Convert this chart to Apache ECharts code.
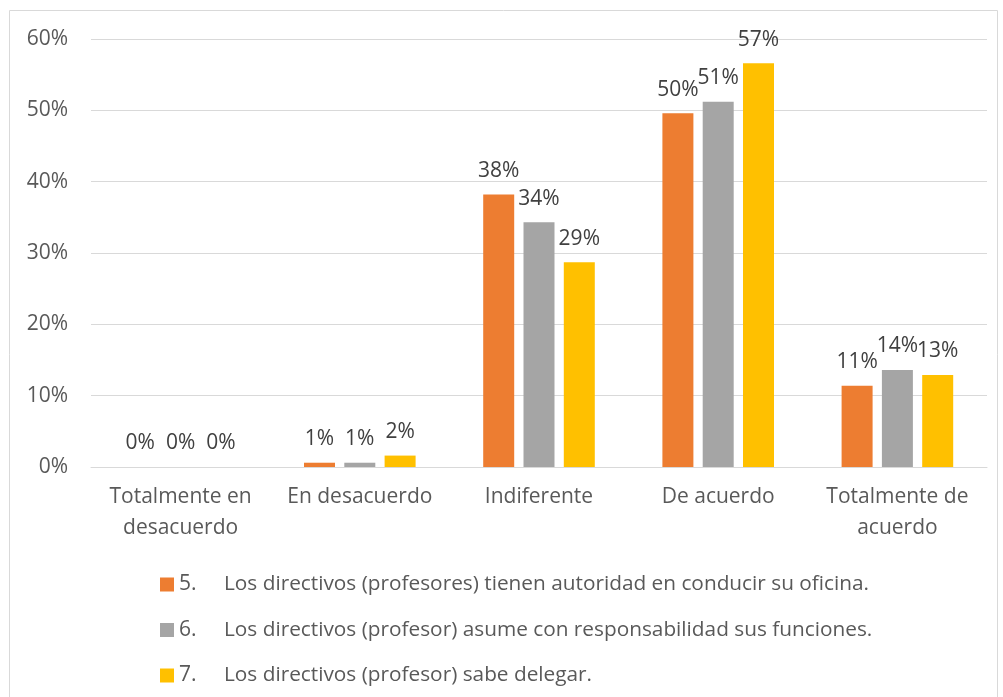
<!DOCTYPE html>
<html>
<head>
<meta charset="utf-8">
<script src="https://cdn.jsdelivr.net/npm/echarts@6/dist/echarts.min.js"></script>
<style>
  html, body { margin: 0; padding: 0; background: #fff; }
  #chart { width: 1003px; height: 697px; }
</style>
</head>
<body>
<div id="chart"></div>
<script>
// categories on the x axis
const categories = ['Totalmente en\ndesacuerdo', 'En desacuerdo', 'Indiferente', 'De acuerdo', 'Totalmente de\nacuerdo']
// legend names: number + statement
const seriesNums = ['5.', '6.', '7.']
const seriesNames = [
  'Los directivos (profesores) tienen autoridad en conducir su oficina.',
  'Los directivos (profesor) asume con responsabilidad sus funciones.',
  'Los directivos (profesor) sabe delegar.'
]
// percentages
const values5 = [0, 0.6, 38.2, 49.6, 11.4]
const values6 = [0, 0.6, 34.3, 51.2, 13.6]
const values7 = [0, 1.6, 28.7, 56.6, 12.9]
const yTicks = [0, 10, 20, 30, 40, 50, 60]

const colors = ['#ED7D31', '#A5A5A5', '#FFC000']
const font = '"Open Sans", sans-serif'

const chart = echarts.init(document.getElementById('chart'))

const makeSeries = (idx, data) => ({
  name: seriesNums[idx] + '|' + seriesNames[idx],
  type: 'bar',
  data: data,
  barWidth: 31,
  barGap: '30%',
  itemStyle: { color: colors[idx] },
  label: {
    show: true,
    position: 'top',
    distance: 13,
    fontFamily: font,
    fontSize: 21,
    color: '#404040',
    formatter: p => Math.round(p.value) + '%'
  }
})

chart.setOption({
  animation: false,
  textStyle: { fontFamily: font },
  graphic: [{
    type: 'rect',
    shape: { x: 9.5, y: 10.5, width: 988, height: 720 },
    style: { fill: 'none', stroke: '#d9d9d9', lineWidth: 1 },
    silent: true
  }],
  grid: { left: 91, right: 16, top: 39, bottom: 230 },
  xAxis: {
    type: 'category',
    data: categories,
    axisTick: { show: false },
    axisLine: { lineStyle: { color: '#d9d9d9', width: 1 } },
    axisLabel: {
      interval: 0,
      fontFamily: font,
      fontSize: 21,
      color: '#595959',
      lineHeight: 31,
      margin: 15
    }
  },
  yAxis: {
    type: 'value',
    min: yTicks[0],
    max: yTicks[yTicks.length - 1],
    interval: 10,
    axisLine: { show: false },
    axisTick: { show: false },
    splitLine: { lineStyle: { color: '#d9d9d9', width: 1 } },
    axisLabel: {
      fontFamily: font,
      fontSize: 21,
      color: '#595959',
      margin: 23,
      formatter: v => v + '%'
    }
  },
  legend: {
    orient: 'vertical',
    left: 155,
    top: 569,
    itemWidth: 14,
    itemHeight: 14,
    itemGap: 24.5,
    icon: 'rect',
    formatter: name => {
      const parts = name.split('|')
      return '{n|' + parts[0] + '}{t|' + parts[1] + '}'
    },
    textStyle: {
      fontFamily: font,
      fontSize: 21,
      color: '#595959',
      rich: {
        n: { width: 45, fontFamily: font, fontSize: 21, color: '#595959' },
        t: { fontFamily: font, fontSize: 20.8, color: '#595959' }
      }
    }
  },
  series: [
    makeSeries(0, values5),
    makeSeries(1, values6),
    makeSeries(2, values7)
  ]
})
</script>
</body>
</html>
